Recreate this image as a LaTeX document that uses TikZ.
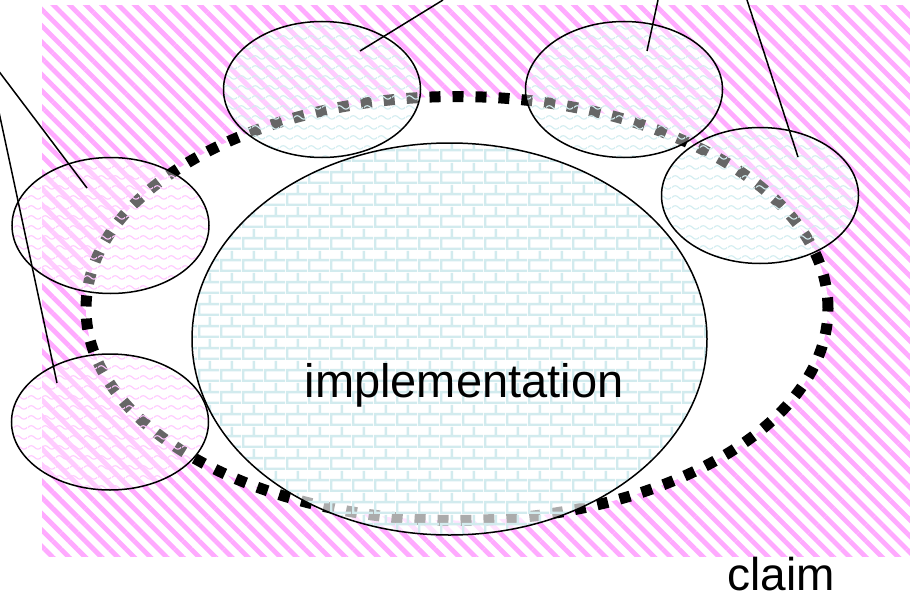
\documentclass[tikz,border=0pt]{standalone}
\usepackage{fontspec}
\setmainfont{Liberation Sans}
\usetikzlibrary{patterns.meta,shapes.geometric}
\definecolor{hatchpink}{RGB}{255,170,255}
\definecolor{brickc}{RGB}{210,235,238}
\definecolor{wavec}{RGB}{210,237,240}
\definecolor{wavep}{RGB}{255,200,255}
\pgfdeclarepattern{
  name=bricks, type=uncolored,
  bottom left={\pgfpoint{0pt}{0pt}}, top right={\pgfpoint{22pt}{22pt}},
  tile size={\pgfpoint{22pt}{22pt}},
  code={
    \pgfsetlinewidth{2.6pt}
    \pgfpathmoveto{\pgfpoint{0pt}{1.3pt}}\pgfpathlineto{\pgfpoint{22pt}{1.3pt}}
    \pgfpathmoveto{\pgfpoint{0pt}{12.3pt}}\pgfpathlineto{\pgfpoint{22pt}{12.3pt}}
    \pgfpathmoveto{\pgfpoint{1.3pt}{1.3pt}}\pgfpathlineto{\pgfpoint{1.3pt}{12.3pt}}
    \pgfpathmoveto{\pgfpoint{12.3pt}{12.3pt}}\pgfpathlineto{\pgfpoint{12.3pt}{22pt}}
    \pgfusepath{stroke}
  }
}
\pgfdeclarepattern{
  name=waves, type=uncolored,
  bottom left={\pgfpoint{0pt}{0pt}}, top right={\pgfpoint{14pt}{10pt}},
  tile size={\pgfpoint{14pt}{10pt}},
  code={
    \pgfsetlinewidth{1.2pt}
    \pgfpathmoveto{\pgfpoint{0pt}{5pt}}
    \pgfpathcurveto{\pgfpoint{2.3pt}{7.5pt}}{\pgfpoint{4.7pt}{7.5pt}}{\pgfpoint{7pt}{5pt}}
    \pgfpathcurveto{\pgfpoint{9.3pt}{2.5pt}}{\pgfpoint{11.7pt}{2.5pt}}{\pgfpoint{14pt}{5pt}}
    \pgfusepath{stroke}
  }
}
\begin{document}
\begin{tikzpicture}[x=1pt,y=1pt,
  small/.style={ellipse, draw, line width=1.5pt, minimum width=197pt,
    minimum height=136pt, inner sep=0pt, preaction={fill=white, fill opacity=0.4}},
  cyanwave/.style={small, pattern=waves, pattern color=wavec},
  pinkwave/.style={small, pattern=waves, pattern color=wavep},
  leader/.style={line width=1.5pt},
  lbl/.style={font=\fontsize{47}{52}\selectfont, inner sep=0pt, anchor=base, text depth=0pt}]
\useasboundingbox (0,0) rectangle (910,-602);
\clip (0,0) rectangle (910,-602);
% hatched claim background
\node[rectangle, inner sep=0pt, minimum width=868pt, minimum height=550pt,
  pattern={Lines[angle=-45,distance=11.5pt,line width=4.8pt]}, pattern color=hatchpink]
  (bg) at (476,-281) {};
% dotted ellipse
\node[ellipse, inner sep=0pt, minimum width=742pt, minimum height=424pt, fill=white,
  draw, line width=11pt, dash pattern=on 11pt off 12pt] (outer) at (457,-308.5) {};
% implementation
\node[ellipse, inner sep=0pt, minimum width=515pt, minimum height=392pt, draw,
  line width=1.5pt, preaction={fill=white, fill opacity=0.67},
  pattern=bricks, pattern color=brickc] (impl) at (449.5,-339) {};
\node[lbl] (impltext) at (464,-397) {implementation};
% small ellipses
\node[pinkwave] (A) at (110.5,-225.5) {};
\node[pinkwave] (B) at (110,-422) {};
\node[cyanwave] (C) at (322,-89.5) {};
\node[cyanwave] (D) at (624,-89.5) {};
\node[cyanwave] (E) at (760,-195.5) {};
% leader ends
\coordinate (Aend) at (-55,0);
\coordinate (Bend) at (-25,0);
\coordinate (Cend) at (443,0);
\coordinate (Dend) at (658,0);
\coordinate (Eend) at (747,0);
\draw[leader] ([shift={(-23.5,37.5)}]A.center) -- (Aend);
\draw[leader] ([shift={(-53,39)}]B.center) -- (Bend);
\draw[leader] ([shift={(38,38.5)}]C.center) -- (Cend);
\draw[leader] ([shift={(23,38.5)}]D.center) -- (Dend);
\draw[leader] ([shift={(38,38.5)}]E.center) -- (Eend);
\node[lbl, font=\fontsize{46}{50}\selectfont] (claim) at (781,-590) {claim};
\end{tikzpicture}
\end{document}
